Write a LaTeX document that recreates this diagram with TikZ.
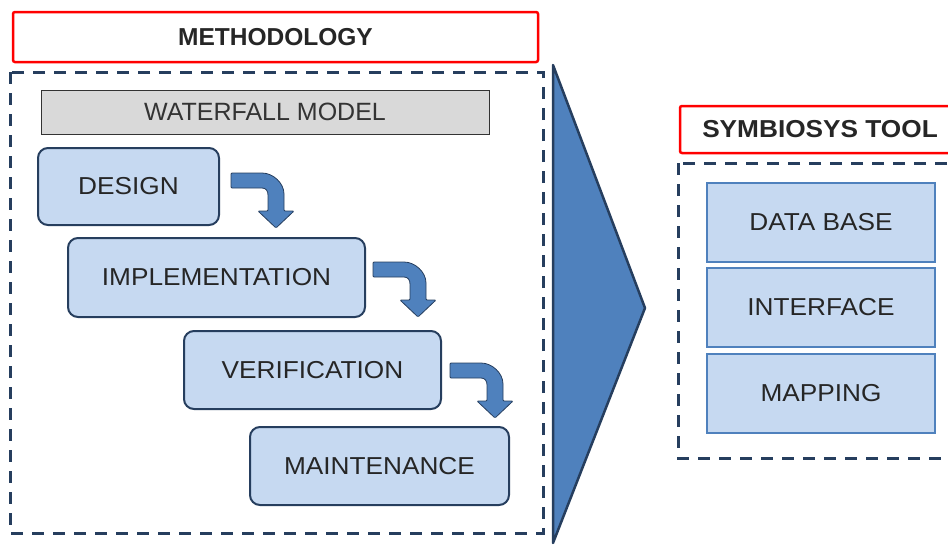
\documentclass[tikz,border=0pt]{standalone}
\usepackage{fontspec}
\setmainfont{Liberation Sans}
\newfontfamily\widefont[FakeStretch=1.07]{Liberation Sans}
\definecolor{navy}{RGB}{38,62,94}
\definecolor{paleblue}{RGB}{198,217,241}
\definecolor{midblue}{RGB}{79,129,189}
\definecolor{boxgray}{RGB}{217,217,217}

\tikzset{
  title/.style={draw=red,line width=2.5pt,fill=white,rounded corners=2pt,
    font=\fontsize{24.5}{28}\selectfont\bfseries,text=black!85},
  frame/.style={draw=navy,line width=3pt,dash pattern=on 12pt off 9pt},
  phase/.style={draw=navy,line width=2pt,fill=paleblue,rounded corners=10pt,
    font=\widefont\fontsize{24.5}{28}\selectfont,text=black!85,inner sep=0pt},
  part/.style={draw=midblue,line width=2.5pt,fill=paleblue,minimum width=228,
    minimum height=79,font=\widefont\fontsize{24.5}{28}\selectfont,text=black!85,inner sep=0pt},
  bendshape/.style={draw=navy,line width=0.8pt,fill=midblue,rounded corners=1pt}
}

% bent arrow between two phases
\newcommand\bendarrow[1]{%
  \draw[bendshape,shift={#1}] (0,0) -- (30,0) .. controls (42,0) and (53,10) .. (53,22)
    -- (53,38) -- (63,38) -- (45,55) -- (27,38) -- (37,38) -- (37,23)
    .. controls (37,18) and (35,15) .. (30,15) -- (0,15) -- cycle;}

\begin{document}
\begin{tikzpicture}[x=1pt,y=-1pt]
\useasboundingbox (0,0) rectangle (948,546);

% left block
\node[title,minimum width=525,minimum height=50] (method) at (275.5,37) {METHODOLOGY};
\draw[frame] (10,72) rectangle (543,533);
\node[draw=black!80,line width=1pt,fill=boxgray,minimum width=448,minimum height=44,
  font=\fontsize{25}{28}\selectfont,text=black!80] (waterfall) at (265,112) {WATERFALL MODEL};

\node[phase,minimum width=181,minimum height=77] (design) at (128.5,186.5) {DESIGN};
\node[phase,minimum width=297,minimum height=79] (impl) at (216.5,277.5) {IMPLEMENTATION};
\node[phase,minimum width=257,minimum height=78] (verif) at (312.5,370) {VERIFICATION};
\node[phase,minimum width=259,minimum height=78] (maint) at (379.5,466) {MAINTENANCE};

\bendarrow{(231,173)}
\bendarrow{(373,262)}
\bendarrow{(450,363)}

% big arrow
\draw[navy,line width=2.5pt,fill=midblue,line join=round] (553,65) -- (645,308) -- (553,543) -- cycle;

% right block
\node[title,minimum width=280,minimum height=47,font=\widefont\fontsize{24.5}{28}\selectfont\bfseries]
  (tool) at (820,129.5) {SYMBIOSYS TOOL};
\draw[frame] (678,163) rectangle (990,458);
\node[part] (db) at (821,222.5) {DATA BASE};
\node[part] (iface) at (821,307.5) {INTERFACE};
\node[part] (map) at (821,393.5) {MAPPING};
\end{tikzpicture}
\end{document}
